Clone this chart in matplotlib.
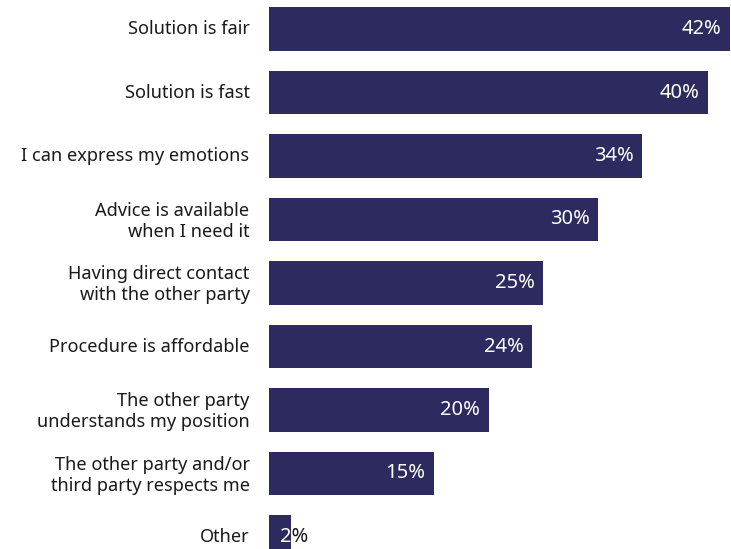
import matplotlib.pyplot as plt
from matplotlib.transforms import Bbox, TransformedBbox, ScaledTranslation

plt.rcParams['font.family'] = ['Noto Sans', 'DejaVu Sans']

labels = [
    "Solution is fair",
    "Solution is fast",
    "I can express my emotions",
    "Advice is available\nwhen I need it",
    "Having direct contact\nwith the other party",
    "Procedure is affordable",
    "The other party\nunderstands my position",
    "The other party and/or\nthird party respects me",
    "Other",
]
values = [42, 40, 34, 30, 25, 24, 20, 15, 2]

BAR = '#2c2a5e'
TEXT = '#1a1a1a'

W, H = 731, 549
fig = plt.figure(figsize=(W / 100, H / 100), dpi=100)
# axes spans the bars; last row runs past the bottom edge
row = 63.5
top_px = 29 - row / 2
ax = fig.add_axes([269 / W, 1 - (top_px + 9 * row) / H, 461 / W, 9 * row / H])

ypos = list(range(len(values)))
bar_h = 0.68
bars = ax.barh(ypos, values, height=bar_h, color=BAR)
ax.set_xlim(0, 42)
ax.set_ylim(8.5, -0.5)

ax.set_yticks(ypos)
ax.set_yticklabels(labels, fontsize=13.1, color=TEXT, linespacing=1.22)
ax.tick_params(axis='y', length=0, pad=14)
ax.set_xticks([])
for s in ax.spines.values():
    s.set_visible(False)

# nudge category labels up a touch
nudge = ScaledTranslation(0, 2 / 100, fig.dpi_scale_trans)
for lbl in ax.get_yticklabels():
    lbl.set_transform(lbl.get_transform() + nudge)

for y, v in zip(ypos, values):
    txt = f"{v}%"
    if v >= 5:
        ax.text(v - 0.75, y, txt, ha='right', va='center', color='white',
                fontsize=14.5)
    else:
        # small bar: label sticks out, white part clipped to the bar
        ax.text(1.0, y, txt, ha='left', va='center', color=TEXT, fontsize=14.5)
        t = ax.text(1.0, y, txt, ha='left', va='center', color='white',
                    fontsize=14.5, clip_on=True)
        box = Bbox([[0, y - bar_h / 2], [v, y + bar_h / 2]])
        t.set_clip_box(TransformedBbox(box, ax.transData))

fig.savefig('out.png', dpi=100)
